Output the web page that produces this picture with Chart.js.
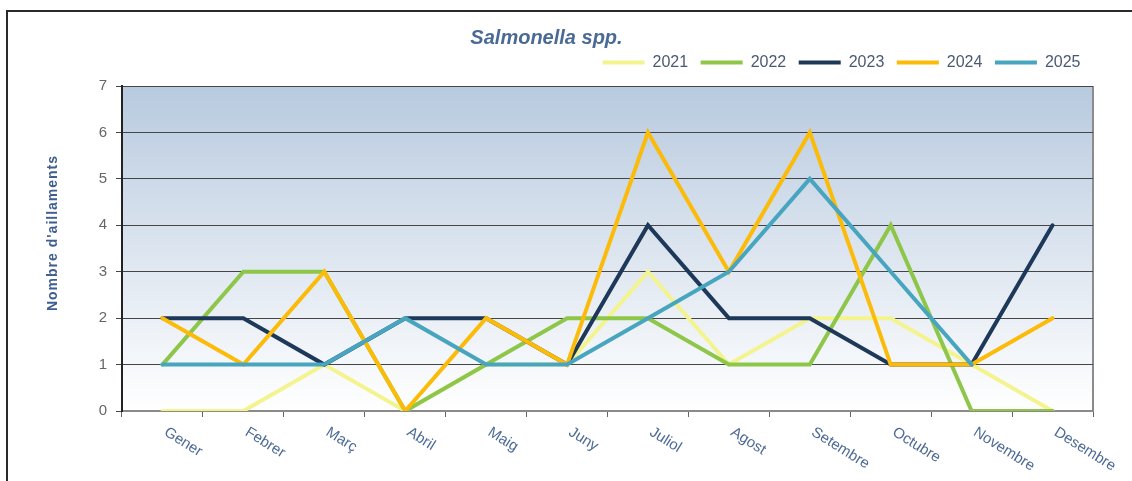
<!DOCTYPE html>
<html>
<head>
    <meta charset="UTF-8">
    <title>Salmonella spp.</title>
    <style>
        body {
            margin: 0;
            background: #ffffff;
            font-family: "Liberation Sans", Arial, sans-serif;
        }

        .marc {
            position: absolute;
            left: 6px;
            top: 10px;
            width: 1130px;
            height: 475px;
            border-left: 2px solid #2a2a2a;
            border-top: 2px solid #2a2a2a;
        }

        #grafic {
            position: absolute;
            left: 0;
            top: 0;
        }
    </style>
    <script src="https://cdn.jsdelivr.net/npm/chart.js"></script>
</head>
<body>
    <div class="marc"></div>
    <canvas id="grafic" width="1132" height="481"></canvas>

    <script>
        // mesos (categories de l'eix x)
        var mesos = ['Gener', 'Febrer', 'Març', 'Abril', 'Maig', 'Juny', 'Juliol', 'Agost', 'Setembre', 'Octubre', 'Novembre', 'Desembre'];

        // nombre d'aïllaments per any
        var any2021 = [0, 0, 1, 0, 1, 1, 3, 1, 2, 2, 1, 0];
        var any2022 = [1, 3, 3, 0, 1, 2, 2, 1, 1, 4, 0, 0];
        var any2023 = [2, 2, 1, 2, 2, 1, 4, 2, 2, 1, 1, 4];
        var any2024 = [2, 1, 3, 0, 2, 1, 6, 3, 6, 1, 1, 2];
        var any2025 = [1, 1, 1, 2, 1, 1, 2, 3, 5, 3, 1, null];

        var titol = 'Salmonella spp.';
        var titolY = "Nombre d'aillaments";
        var maxY = 7;

        Chart.defaults.font.family = '"Liberation Sans", Arial, sans-serif';

        function serie(nom, dades, color, ordre) {
            return {
                label: nom,
                data: dades,
                borderColor: color,
                backgroundColor: color,
                borderWidth: 4,
                pointRadius: 0,
                tension: 0,
                fill: false,
                borderJoinStyle: 'miter',
                borderCapStyle: 'round',
                order: ordre
            };
        }

        // fons degradat de l'àrea del gràfic
        var fons = {
            id: 'fons',
            beforeDraw: function (chart) {
                var a = chart.chartArea;
                var ctx = chart.ctx;
                var g = ctx.createLinearGradient(0, a.top, 0, a.bottom);
                g.addColorStop(0, '#b8cadf');
                g.addColorStop(1, '#ffffff');
                ctx.save();
                ctx.fillStyle = g;
                ctx.fillRect(a.left, a.top, a.right - a.left, a.bottom - a.top);
                ctx.strokeStyle = '#8c8c8c';
                ctx.lineWidth = 2;
                ctx.beginPath();
                ctx.moveTo(a.right, a.top);
                ctx.lineTo(a.right, a.bottom);
                ctx.stroke();
                ctx.restore();
            }
        };

        // etiquetes dels mesos inclinades cap avall i títol de l'eix y
        var etiquetes = {
            id: 'etiquetes',
            afterDraw: function (chart) {
                var ctx = chart.ctx;
                var sx = chart.scales.x;
                ctx.save();
                ctx.fillStyle = '#4d6a96';
                ctx.font = '15px "Liberation Sans", Arial, sans-serif';
                ctx.textAlign = 'left';
                ctx.textBaseline = 'middle';
                mesos.forEach(function (m, i) {
                    var x = sx.getPixelForTick(i);
                    ctx.save();
                    ctx.translate(x + 3, sx.top + 20);
                    ctx.rotate(32 * Math.PI / 180);
                    ctx.fillText(m, 0, 0);
                    ctx.restore();
                });

                ctx.fillStyle = '#3d5e8e';
                ctx.font = 'bold 14px "Liberation Sans", Arial, sans-serif';
                ctx.letterSpacing = '1px';
                ctx.textAlign = 'center';
                ctx.translate(53, 233);
                ctx.rotate(-Math.PI / 2);
                ctx.fillText(titolY, 0, 0);
                ctx.restore();
            }
        };

        var ctx = document.getElementById('grafic').getContext('2d');

        new Chart(ctx, {
            type: 'line',
            data: {
                labels: mesos,
                datasets: [
                    serie('2021', any2021, '#f4f48e', 5),
                    serie('2022', any2022, '#8ec64a', 4),
                    serie('2023', any2023, '#1d3858', 3),
                    serie('2024', any2024, '#fbbb08', 2),
                    serie('2025', any2025, '#47a5c0', 1)
                ]
            },
            options: {
                responsive: false,
                animation: false,
                devicePixelRatio: 1,
                layout: {
                    padding: { left: 0, right: 39, top: 0, bottom: 0 }
                },
                plugins: {
                    tooltip: { enabled: false },
                    title: {
                        display: true,
                        text: titol,
                        color: '#4a6a96',
                        font: { size: 20, weight: 'bold', style: 'italic', lineHeight: 1 },
                        padding: { top: 28, bottom: -6 }
                    },
                    legend: {
                        position: 'top',
                        align: 'end',
                        labels: {
                            usePointStyle: true,
                            pointStyle: 'line',
                            pointStyleWidth: 42,
                            padding: 12.5,
                            color: '#4b5a74',
                            font: { size: 16 },
                            sort: function (a, b) { return a.datasetIndex - b.datasetIndex; }
                        }
                    }
                },
                scales: {
                    x: {
                        type: 'category',
                        offset: true,
                        grid: {
                            offset: true,
                            drawOnChartArea: false,
                            drawTicks: true,
                            tickLength: 6,
                            color: '#666666'
                        },
                        border: { color: '#8a8a8a', width: 2 },
                        ticks: { display: false },
                        afterFit: function (s) { s.height = 70; }
                    },
                    y: {
                        min: 0,
                        max: maxY,
                        ticks: {
                            stepSize: 1,
                            color: '#666666',
                            font: { size: 15 },
                            padding: 9
                        },
                        grid: { color: '#454545', lineWidth: 1, tickLength: 6 },
                        border: { color: '#222222', width: 2 },
                        afterFit: function (s) { s.width = 122; }
                    },
                    espai: {
                        axis: 'x',
                        type: 'linear',
                        position: 'top',
                        grid: { display: false },
                        border: { display: false },
                        ticks: { display: false },
                        afterFit: function (s) { s.height = 5.5; }
                    }
                }
            },
            plugins: [fons, etiquetes]
        });
    </script>
</body>
</html>
